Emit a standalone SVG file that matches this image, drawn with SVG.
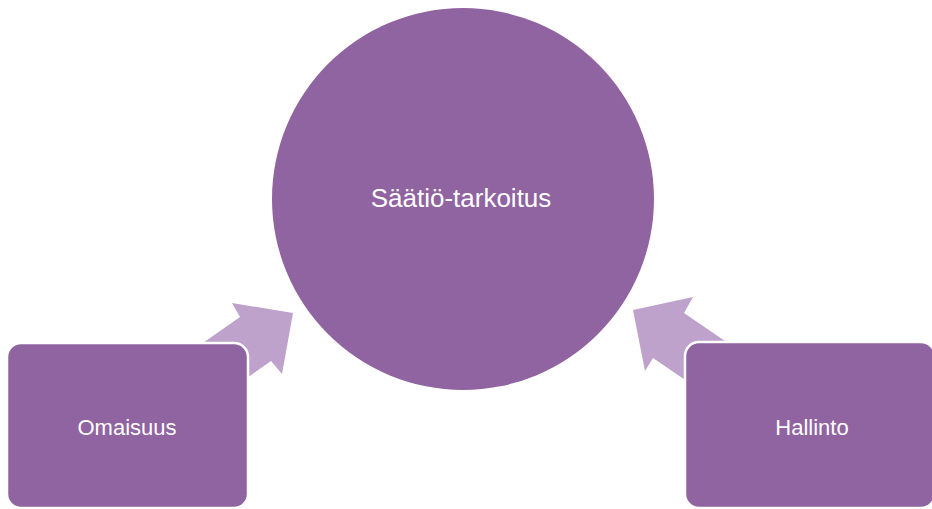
<svg xmlns="http://www.w3.org/2000/svg" width="932" height="509" viewBox="0 0 932 509">
<style>
.node{fill:#9063A1;}
.box{fill:#9063A1;stroke:#ffffff;stroke-width:2.5;}
.arrow{fill:#BEA2CB;}
.lbl{fill:#ffffff;font-family:"Liberation Sans",Arial,sans-serif;text-anchor:middle;}
</style>
<rect width="932" height="509" fill="#ffffff"/>
<g id="connectors">
<polygon class="arrow" points="293,313 282,374 271,361 220,397 180,359 240,317 232,303"/>
<polygon class="arrow" points="633,310 693,297 684,313 744,354 713,399 653,358 645,371"/>
</g>
<g id="node-saatio">
<circle class="node" cx="463" cy="199" r="191"/>
<text class="lbl" x="461" y="207" font-size="26">Säätiö-tarkoitus</text>
</g>
<g id="node-omaisuus">
<rect class="box" x="7" y="343" width="241" height="165" rx="14"/>
<text class="lbl" x="127" y="435" font-size="22">Omaisuus</text>
</g>
<g id="node-hallinto">
<rect class="box" x="685" y="342" width="250" height="166" rx="14"/>
<text class="lbl" x="812" y="435" font-size="22">Hallinto</text>
</g>
</svg>
